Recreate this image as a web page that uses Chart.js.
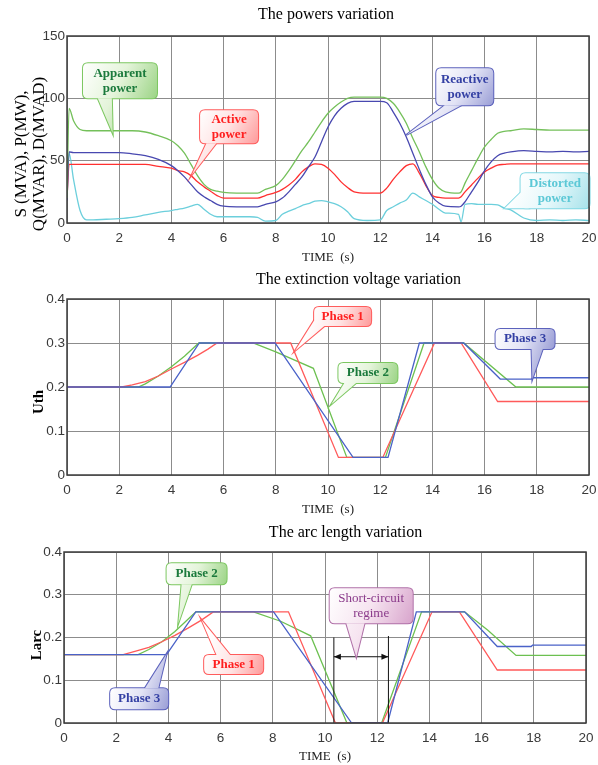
<!DOCTYPE html>
<html>
<head>
<meta charset="utf-8">
<script src="https://cdn.jsdelivr.net/npm/chart.js@4.4.1/dist/chart.umd.min.js"></script>
<style>
  html, body { margin: 0; padding: 0; background: #fff; }
  #wrap { position: relative; width: 598px; height: 765px; }
  canvas { position: absolute; left: 0; }
</style>
</head>
<body>
<div id="wrap">
  <canvas id="powers" width="598" height="266" style="top:0"></canvas>
  <canvas id="uth" width="598" height="252" style="top:266px"></canvas>
  <canvas id="larc" width="598" height="247" style="top:518px"></canvas>
</div>
<script>
// ---------- data ----------
const timeTicks = [0, 2, 4, 6, 8, 10, 12, 14, 16, 18, 20];
const powerTicks = [0, 50, 100, 150];
const ratioTicks = [0, 0.1, 0.2, 0.3, 0.4];

// powers variation (shared time base)
const powerTime = [0, 0.08, 0.25, 0.5, 0.75, 1, 1.5, 2, 2.5, 3, 3.5, 4, 4.25, 4.5, 4.75, 5, 5.25, 5.5, 5.75, 6,
  6.5, 7, 7.3, 7.6, 8, 8.25, 8.5, 8.75, 9, 9.25, 9.5, 9.75, 10, 10.25, 10.5, 10.75, 11, 11.5, 12, 12.25,
  12.5, 12.75, 13, 13.25, 13.5, 13.75, 14, 14.25, 14.5, 15, 15.1, 15.25, 15.5, 15.75, 16, 16.25, 16.5, 16.75, 17, 17.5,
  18, 18.5, 19, 19.5, 20];
const apparentPower = [20, 92, 82, 75, 74, 74, 74, 74, 74, 73, 70, 66, 62, 56, 47, 38, 31, 27, 25.5, 24.5,
  24, 24, 24, 27, 30, 35, 42, 50, 58, 65, 73, 81, 88, 93, 97, 100, 101, 101, 101, 100,
  96, 89, 80, 68, 57, 45, 35, 28, 25, 24, 25, 32, 42, 52, 61, 67, 72, 73.5, 74, 75.5,
  75, 74.5, 74.5, 74.5, 74.5];
const activePower = [20, 47, 47, 47, 47, 47, 47, 47, 47, 47, 45.5, 44, 42, 41, 38, 33, 29, 25.5, 22, 20,
  20, 20, 20, 22, 24.5, 27, 30.5, 35, 41, 45, 47.5, 47, 44, 39, 33, 28.5, 25, 24, 24, 28,
  35, 41, 46, 47.5, 40, 30, 22, 20.5, 20, 20, 21, 25, 30.5, 36, 41, 44, 46.5, 47, 47.5, 47.5,
  47.5, 47.5, 47.5, 47.5, 47.5];
const reactivePower = [18, 57, 56.5, 56.5, 56.5, 56.5, 56.5, 56.5, 55.5, 54, 51, 46, 42, 37, 31, 25, 21, 18, 15, 13.5,
  13, 13, 13, 15, 17, 20, 25, 31, 37, 45, 53, 65, 77, 86, 92, 96, 97.5, 97.5, 97.5, 96.5,
  89, 80, 69, 56, 43, 31, 21, 16, 13.5, 13, 13.5, 17, 25, 33, 42, 49, 54, 56, 57, 58,
  57.5, 57, 57.5, 57, 57.5];
const distortedPower = [20, 56, 35, 10, 2.5, 2.5, 3, 3.5, 4.5, 6.5, 8.5, 10, 11, 12, 13.5, 15, 11, 7, 5, 5,
  5, 5, 4.5, 1.5, 2, 7, 9.5, 11.5, 14, 15.5, 17.5, 18, 17, 15.5, 13, 9, 3.5, 2, 2.5, 10,
  13, 16, 18.5, 24, 21, 18, 15, 11, 8, 7, 1, 15, 15.5, 15, 15, 15, 14.5, 12, 10.5, 4,
  2, 2.5, 2, 2.5, 2];

// extinction voltage Uth per phase
const uthTime1 = [0, 2.1, 2.5, 3, 3.5, 4, 4.5, 5, 5.4, 5.75, 8.57, 10.4, 12.1, 14.08, 15.1, 16.5, 20];
const uthPhase1 = [0.2, 0.2, 0.205, 0.212, 0.225, 0.241, 0.256, 0.272, 0.286, 0.3, 0.3, 0.04, 0.04, 0.3, 0.3, 0.167, 0.167];
const uthTime2 = [0, 2.73, 3, 3.5, 4, 4.5, 5.05, 7.13, 8, 9.44, 10.72, 12.2, 13.68, 15.2, 17.2, 20];
const uthPhase2 = [0.2, 0.2, 0.207, 0.225, 0.246, 0.27, 0.3, 0.3, 0.28, 0.2425, 0.04, 0.04, 0.3, 0.3, 0.2, 0.2];
const uthTime3 = [0, 3.95, 5.07, 7.97, 10.96, 12.3, 13.5, 15.2, 16.6, 17.8, 17.85, 20];
const uthPhase3 = [0.2, 0.2, 0.3, 0.3, 0.04, 0.04, 0.3, 0.3, 0.218, 0.218, 0.221, 0.221];

// arc length Larc per phase
const larcTime1 = [0, 2.27, 2.75, 3.25, 3.75, 4.25, 4.75, 5.25, 5.72, 8.6, 10.4, 12.2, 14.1, 15.15, 16.6, 20];
const larcPhase1 = [0.16, 0.16, 0.168, 0.177, 0.19, 0.205, 0.222, 0.24, 0.26, 0.26, 0, 0, 0.26, 0.26, 0.124, 0.124];
const larcTime2 = [0, 2.84, 3.25, 3.75, 4.25, 4.65, 5.05, 7.26, 8.3, 9.45, 10.84, 12.17, 13.7, 15.35, 16.24, 17.32, 20];
const larcPhase2 = [0.16, 0.16, 0.172, 0.19, 0.214, 0.237, 0.26, 0.26, 0.238, 0.204, 0, 0, 0.26, 0.26, 0.217, 0.158, 0.158];
const larcTime3 = [0, 3.93, 5.05, 8.03, 11.02, 12.4, 13.5, 15.35, 16.6, 17.9, 17.95, 20];
const larcPhase3 = [0.16, 0.16, 0.26, 0.26, 0, 0, 0.26, 0.26, 0.179, 0.179, 0.182, 0.182];

// short-circuit regime bounds (s)
const shortCircuit = [10.34, 12.43];

// ---------- plugins ----------
const frame = {
  id: 'frame',
  afterDraw(chart) {
    const { ctx, chartArea: a } = chart;
    ctx.save();
    ctx.strokeStyle = '#3c3c3c';
    ctx.lineWidth = 1.5;
    ctx.strokeRect(a.left, a.top, a.right - a.left, a.bottom - a.top);
    ctx.restore();
  }
};

const texts = {
  id: 'texts',
  afterDraw(chart, args, opts) {
    const ctx = chart.ctx;
    (opts.items || []).forEach(t => {
      ctx.save();
      ctx.translate(t.x, t.y);
      if (t.rotate) ctx.rotate(t.rotate);
      ctx.font = t.font;
      ctx.fillStyle = t.color || '#000';
      ctx.textAlign = 'center';
      ctx.textBaseline = 'middle';
      const lines = [].concat(t.text);
      const lh = t.lineHeight || 16;
      lines.forEach((s, i) => ctx.fillText(s, 0, (i - (lines.length - 1) / 2) * lh));
      ctx.restore();
    });
  }
};

function roundRect(ctx, x, y, w, h, r) {
  ctx.beginPath();
  ctx.moveTo(x + r, y);
  ctx.lineTo(x + w - r, y);
  ctx.quadraticCurveTo(x + w, y, x + w, y + r);
  ctx.lineTo(x + w, y + h - r);
  ctx.quadraticCurveTo(x + w, y + h, x + w - r, y + h);
  ctx.lineTo(x + r, y + h);
  ctx.quadraticCurveTo(x, y + h, x, y + h - r);
  ctx.lineTo(x, y + r);
  ctx.quadraticCurveTo(x, y, x + r, y);
  ctx.closePath();
}

const callouts = {
  id: 'callouts',
  afterDatasetsDraw(chart, args, opts) {
    const { ctx, scales: { x, y } } = chart;
    const px = v => x.getPixelForValue(v), py = v => y.getPixelForValue(v);

    (opts.marks || []).forEach(m => {
      ctx.save();
      ctx.strokeStyle = '#111';
      ctx.fillStyle = '#111';
      ctx.lineWidth = 1;
      const x0 = px(m.from[0]), y0 = py(m.from[1]), x1 = px(m.to[0]), y1 = py(m.to[1]);
      ctx.beginPath();
      ctx.moveTo(x0, y0);
      ctx.lineTo(x1, y1);
      ctx.stroke();
      if (m.arrows) {
        [[x0, y0, 1], [x1, y1, -1]].forEach(([ax, ay, d]) => {
          ctx.beginPath();
          ctx.moveTo(ax, ay);
          ctx.lineTo(ax + d * 7, ay - 3);
          ctx.lineTo(ax + d * 7, ay + 3);
          ctx.closePath();
          ctx.fill();
        });
      }
      ctx.restore();
    });

    (opts.items || []).forEach(c => {
      const bx = px(c.at[0]) - c.w / 2, by = py(c.at[1]) - c.h / 2;
      const tx = px(c.tip[0]), ty = py(c.tip[1]);
      const b1 = [bx + c.base[0][0] * c.w, by + c.base[0][1] * c.h];
      const b2 = [bx + c.base[1][0] * c.w, by + c.base[1][1] * c.h];
      const wedge = () => {
        ctx.beginPath();
        ctx.moveTo(b1[0], b1[1]);
        ctx.lineTo(tx, ty);
        ctx.lineTo(b2[0], b2[1]);
        ctx.closePath();
      };
      ctx.save();
      ctx.strokeStyle = c.stroke;
      ctx.lineWidth = 2;
      roundRect(ctx, bx, by, c.w, c.h, 5);
      ctx.stroke();
      wedge();
      ctx.stroke();
      const g = ctx.createLinearGradient(bx, by, bx + c.w, by + c.h);
      g.addColorStop(0, '#ffffff');
      g.addColorStop(0.5, c.fill[0]);
      g.addColorStop(1, c.fill[1]);
      ctx.fillStyle = g;
      roundRect(ctx, bx, by, c.w, c.h, 5);
      ctx.fill();
      wedge();
      ctx.fill();
      ctx.fillStyle = c.color;
      ctx.font = (c.bold === false ? '' : 'bold ') + '13px "Liberation Serif", serif';
      ctx.textAlign = 'center';
      ctx.textBaseline = 'middle';
      const n = c.text.length;
      c.text.forEach((s, i) => ctx.fillText(s, bx + c.w / 2, by + c.h / 2 + (i - (n - 1) / 2) * 15));
      ctx.restore();
    });
  }
};

// ---------- helpers ----------
function series(times, values, color, order, smooth) {
  return {
    data: times.map((t, i) => ({ x: t, y: values[i] })),
    borderColor: color,
    borderWidth: 1.3,
    pointRadius: 0,
    order: order,
    cubicInterpolationMode: smooth ? 'monotone' : 'default',
    tension: 0
  };
}

const tickFont = { family: '"Liberation Sans", Arial, sans-serif', size: 13.5 };

function noEdgePadding(s) {
  s.paddingLeft = 0; s.paddingRight = 0; s.paddingTop = 0; s.paddingBottom = 0;
}

function buildChart(id, o) {
  const canvas = document.getElementById(id);
  return new Chart(canvas, {
    type: 'line',
    data: { datasets: o.datasets },
    options: {
      responsive: false,
      animation: false,
      devicePixelRatio: 1,
      layout: { padding: { top: o.plot.top, left: 0, right: canvas.width - o.plot.right, bottom: 0 } },
      plugins: {
        legend: { display: false },
        tooltip: { enabled: false },
        texts: { items: o.texts },
        callouts: { items: o.callouts, marks: o.marks || [] }
      },
      scales: {
        x: {
          type: 'linear', min: 0, max: 20,
          afterBuildTicks: s => { s.ticks = timeTicks.map(v => ({ value: v })); },
          afterFit: s => { s.height = canvas.height - o.plot.bottom; noEdgePadding(s); },
          grid: { color: '#8c8c8c', drawTicks: false },
          border: { display: false },
          ticks: { padding: 7, color: '#3a3a3a', font: tickFont, maxRotation: 0, autoSkip: false },
          title: { display: true, text: 'TIME  (s)', color: '#222',
                   font: { family: '"Liberation Serif", serif', size: 13 }, padding: { top: 0, bottom: 1 } }
        },
        y: {
          type: 'linear', min: o.yTicks[0], max: o.yTicks[o.yTicks.length - 1],
          afterBuildTicks: s => { s.ticks = o.yTicks.map(v => ({ value: v })); },
          afterFit: s => { s.width = o.plot.left; noEdgePadding(s); },
          grid: { color: '#8c8c8c', drawTicks: false },
          border: { display: false },
          ticks: { padding: 2, color: '#3a3a3a', font: tickFont }
        }
      }
    },
    plugins: [frame, texts, callouts]
  });
}

const serif = '"Liberation Serif", "Times New Roman", serif';
const red = { stroke: '#ff5c5c', fill: ['#ffe2e2', '#ff9a9a'], color: '#ff2020' };
const green = { stroke: '#7cc760', fill: ['#e4f4da', '#9cd486'], color: '#1b7a3c' };
const blue = { stroke: '#5c62bc', fill: ['#e2e3f5', '#9a9ed6'], color: '#3440a4' };

// ---------- chart 1: powers ----------
buildChart('powers', {
  plot: { left: 67, top: 36, right: 589, bottom: 223 },
  yTicks: powerTicks,
  datasets: [
    series(powerTime, distortedPower, '#6ccfdc', 3, true),
    series(powerTime, activePower, '#ff3030', 2, true),
    series(powerTime, reactivePower, '#4848b0', 1, true),
    series(powerTime, apparentPower, '#74c05a', 0, true)
  ],
  texts: [
    { text: 'The powers variation', x: 326, y: 15, font: '16px ' + serif },
    { text: ['S (MVA), P(MW),', 'Q(MVAR), D(MVAD)'], x: 31, y: 154, rotate: -Math.PI / 2,
      font: '17px ' + serif, lineHeight: 18 }
  ],
  callouts: [
    Object.assign({ text: ['Apparent', 'power'], at: [2.03, 114.1], w: 74, h: 35, tip: [1.75, 72],
      base: [[0.2, 1], [0.39, 1]] }, green),
    Object.assign({ text: ['Active', 'power'], at: [6.21, 77.2], w: 58, h: 33, tip: [4.78, 38.5],
      base: [[0.11, 1], [0.28, 1]] }, red),
    Object.assign({ text: ['Reactive', 'power'], at: [15.24, 109.3], w: 57, h: 37, tip: [13.0, 70.6],
      base: [[0.15, 1], [0.44, 1]] }, blue),
    { text: ['Distorted', 'power'], at: [18.7, 25.8], w: 69, h: 35, tip: [16.77, 11.8],
      base: [[0, 0.55], [0.12, 1]], stroke: '#82d8e4', fill: ['#e4f7fa', '#a6e2ea'], color: '#5cc8d6' }
  ]
});

// ---------- chart 2: extinction voltage ----------
buildChart('uth', {
  plot: { left: 67, top: 33, right: 589, bottom: 209 },
  yTicks: ratioTicks,
  datasets: [
    series(uthTime1, uthPhase1, '#ff5a5a', 1),
    series(uthTime2, uthPhase2, '#6cc050', 2),
    series(uthTime3, uthPhase3, '#4a62c8', 0)
  ],
  texts: [
    { text: 'The extinction voltage variation', x: 358.5, y: 14, font: '16px ' + serif },
    { text: 'Uth', x: 39, y: 136, rotate: -Math.PI / 2, font: 'bold 15px ' + serif }
  ],
  callouts: [
    Object.assign({ text: ['Phase 1'], at: [10.56, 0.36], w: 57, h: 19, tip: [8.74, 0.2825],
      base: [[0, 0.7], [0.18, 1]] }, red),
    Object.assign({ text: ['Phase 2'], at: [11.53, 0.232], w: 59, h: 20, tip: [10.13, 0.161],
      base: [[0.1, 1], [0.3, 1]] }, green),
    Object.assign({ text: ['Phase 3'], at: [17.55, 0.309], w: 59, h: 20, tip: [17.83, 0.218],
      base: [[0.61, 1], [0.8, 1]] }, blue)
  ]
});

// ---------- chart 3: arc length ----------
buildChart('larc', {
  plot: { left: 64, top: 34, right: 586, bottom: 205 },
  yTicks: ratioTicks,
  datasets: [
    series(larcTime1, larcPhase1, '#ff5a5a', 1),
    series(larcTime2, larcPhase2, '#6cc050', 2),
    series(larcTime3, larcPhase3, '#4a62c8', 0)
  ],
  texts: [
    { text: 'The arc length variation', x: 345.5, y: 15, font: '16px ' + serif },
    { text: 'Larc', x: 37.5, y: 127, rotate: -Math.PI / 2, font: 'bold 15px ' + serif }
  ],
  marks: [
    { from: [shortCircuit[0], 0.2], to: [shortCircuit[0], 0] },
    { from: [shortCircuit[1], 0.2035], to: [shortCircuit[1], 0] },
    { from: [shortCircuit[0], 0.155], to: [shortCircuit[1], 0.155], arrows: true }
  ],
  callouts: [
    Object.assign({ text: ['Phase 2'], at: [5.08, 0.349], w: 60, h: 21, tip: [4.38, 0.233],
      base: [[0.25, 1], [0.42, 1]] }, green),
    Object.assign({ text: ['Phase 1'], at: [6.5, 0.137], w: 59, h: 19, tip: [5.27, 0.241],
      base: [[0.21, 0], [0.44, 0]] }, red),
    Object.assign({ text: ['Phase 3'], at: [2.88, 0.057], w: 58, h: 21, tip: [3.93, 0.1615],
      base: [[0.6, 0], [0.83, 0]] }, blue),
    { text: ['Short-circuit', 'regime'], at: [11.77, 0.274], w: 83, h: 35, tip: [11.2, 0.155],
      base: [[0.2, 1], [0.42, 1]], stroke: '#b070a8', fill: ['#f6e4f0', '#d8a4cc'], color: '#8a3a8a', bold: false }
  ]
});
</script>
</body>
</html>
